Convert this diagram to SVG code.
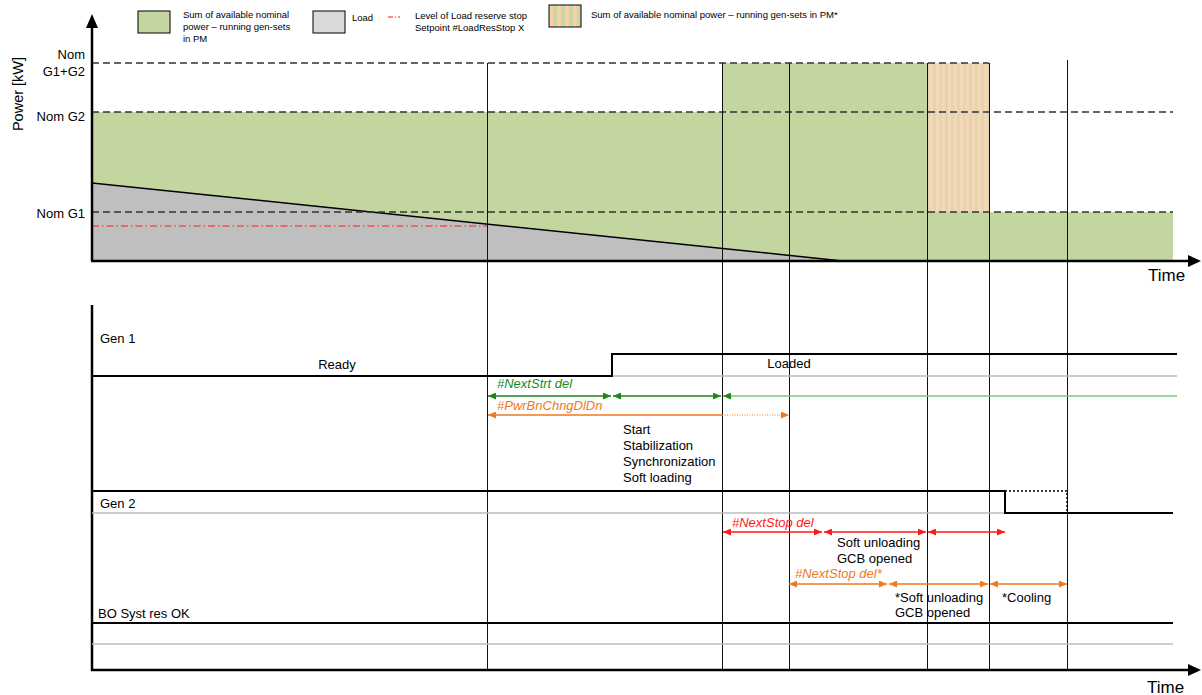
<svg xmlns="http://www.w3.org/2000/svg" width="1202" height="695" viewBox="0 0 1202 695">
<style>
text{font-family:"Liberation Sans",Arial,sans-serif;fill:#000}
.lg{font-size:9.5px}
.lb{font-size:13px}
.tm{font-size:17px}
.ax{stroke:#000;stroke-width:2.5;fill:none}
.dash{stroke:#333;stroke-width:1.3;stroke-dasharray:7,4;fill:none}
.vl{stroke:#111;stroke-width:1;fill:none}
.sig{stroke:#000;stroke-width:2;fill:none}
.gr{stroke:#bdbdbd;stroke-width:1.5;fill:none}
.green{stroke:#1a8a1a;stroke-width:1.5;fill:none}
.orange{stroke:#ee7a20;stroke-width:1.5;fill:none}
.red{stroke:#ff1a1a;stroke-width:1.5;fill:none}
.tg{fill:#1a8a1a;font-style:italic;font-size:13px}
.to{fill:#ee7a20;font-style:italic;font-size:13px}
.tr{fill:#ff1a1a;font-style:italic;font-size:13px}
</style>
<defs>
<pattern id="hatch" width="6" height="10" patternUnits="userSpaceOnUse">
<rect width="6" height="10" fill="#f6d6b9"/>
<rect x="3" width="3" height="10" fill="#e2d6ad"/>
</pattern>
<pattern id="hatchL" x="549" width="8" height="10" patternUnits="userSpaceOnUse">
<rect width="8" height="10" fill="#f7cfaa"/>
<rect x="4" width="4" height="10" fill="#c9d8a2"/>
</pattern>
<marker id="ag" viewBox="0 0 10 10" refX="10" refY="5" markerWidth="8" markerHeight="7" orient="auto-start-reverse" markerUnits="userSpaceOnUse" preserveAspectRatio="none"><path d="M0,0L10,5L0,10z" fill="#1a8a1a"/></marker>
<marker id="ao" viewBox="0 0 10 10" refX="10" refY="5" markerWidth="8" markerHeight="7" orient="auto-start-reverse" markerUnits="userSpaceOnUse" preserveAspectRatio="none"><path d="M0,0L10,5L0,10z" fill="#ee7a20"/></marker>
<marker id="ar" viewBox="0 0 10 10" refX="10" refY="5" markerWidth="8" markerHeight="7" orient="auto-start-reverse" markerUnits="userSpaceOnUse" preserveAspectRatio="none"><path d="M0,0L10,5L0,10z" fill="#ff1a1a"/></marker>
</defs>

<g id="legend">
<rect x="138" y="11" width="32" height="22" fill="#c4d6a0" stroke="#000" stroke-width="1"/>
<text class="lg" x="183" y="18">Sum of available nominal</text>
<text class="lg" x="183" y="30">power – running gen-sets</text>
<text class="lg" x="183" y="42">in PM</text>
<rect x="313" y="11" width="32" height="22" fill="#d9d9d9" stroke="#000" stroke-width="1"/>
<text class="lg" x="352" y="21">Load</text>
<line x1="388" y1="17" x2="400" y2="17" stroke="#ff1a1a" stroke-width="1" stroke-dasharray="5,2,1,2"/>
<text class="lg" x="415" y="19">Level of Load reserve stop</text>
<text class="lg" x="415" y="31">Setpoint #LoadResStop X</text>
<rect x="549" y="5" width="32" height="22" fill="url(#hatchL)" stroke="#000" stroke-width="1"/>
<text class="lg" x="591" y="18">Sum of available nominal power – running gen-sets in PM*</text>
</g>

<g id="power-chart">
<rect x="92" y="112" width="630" height="149" fill="#c4d6a0"/>
<rect x="722" y="63" width="205" height="198" fill="#c4d6a0"/>
<rect x="927" y="63" width="62" height="149" fill="url(#hatch)"/>
<rect x="927" y="212" width="246" height="49" fill="#c4d6a0"/>
<polygon points="92,183 843,261 92,261" fill="#bfbfbf"/>
<line x1="92" y1="183" x2="843" y2="261" stroke="#000" stroke-width="1.5"/>
<line class="dash" x1="92" y1="63" x2="989" y2="63"/>
<line class="dash" x1="92" y1="112" x2="1173" y2="112"/>
<line class="dash" x1="92" y1="212" x2="1173" y2="212"/>
<line x1="92" y1="226" x2="487" y2="226" stroke="#ff2020" stroke-width="1" stroke-dasharray="7,3,1.5,3"/>
<text class="lb" x="85" y="59" text-anchor="end">Nom</text>
<text class="lb" x="85" y="76" text-anchor="end">G1+G2</text>
<text class="lb" x="85" y="121" text-anchor="end">Nom G2</text>
<text class="lb" x="85" y="218" text-anchor="end">Nom G1</text>
<text x="0" y="0" font-size="14.5" text-anchor="middle" transform="translate(23,94) rotate(-90)">Power [kW]</text>
</g>

<g id="time-markers">
<line class="vl" x1="487.5" y1="63" x2="487.5" y2="670"/>
<line class="vl" x1="722.5" y1="63" x2="722.5" y2="670"/>
<line class="vl" x1="789.5" y1="63" x2="789.5" y2="670"/>
<line class="vl" x1="927.5" y1="63" x2="927.5" y2="670"/>
<line class="vl" x1="989.5" y1="63" x2="989.5" y2="670"/>
<line class="vl" x1="1067.5" y1="60" x2="1067.5" y2="670"/>
</g>

<g id="axes">
<line class="ax" x1="92" y1="261" x2="92" y2="22"/>
<path d="M92,14 L86,28 L98,28z" fill="#000"/>
<line class="ax" x1="91" y1="261" x2="1192" y2="261"/>
<path d="M1201,261 L1188,255 L1188,267z" fill="#000"/>
<text class="tm" x="1148" y="281">Time</text>
<line class="ax" x1="92" y1="305" x2="92" y2="671"/>
<line class="ax" x1="91" y1="670" x2="1192" y2="670"/>
<path d="M1201,670 L1188,664 L1188,676z" fill="#000"/>
<text class="tm" x="1147" y="693">Time</text>
</g>

<g id="gen1">
<text class="lb" x="100" y="343">Gen 1</text>
<line class="gr" x1="612" y1="376" x2="1177" y2="376"/>
<polyline class="sig" points="92,376 612,376 612,354 1177,354"/>
<text class="lb" x="337" y="369" text-anchor="middle">Ready</text>
<text class="lb" x="789" y="368" text-anchor="middle">Loaded</text>
<text class="tg" x="497" y="388">#NextStrt del</text>
<text class="to" x="497" y="410">#PwrBnChngDlDn</text>
<text class="lb" x="623" y="434">Start</text>
<text class="lb" x="623" y="450">Stabilization</text>
<text class="lb" x="623" y="466">Synchronization</text>
<text class="lb" x="623" y="482">Soft loading</text>
</g>

<g id="gen2">
<text class="lb" x="100" y="508">Gen 2</text>
<line class="gr" x1="92" y1="513" x2="1005" y2="513"/>
<polyline class="sig" points="92,491 1005,491 1005,513 1173,513"/>
<polyline points="1005,491 1067,491 1067,513" fill="none" stroke="#000" stroke-width="1.5" stroke-dasharray="2,2"/>
<text class="tr" x="732" y="527">#NextStop del</text>
<text class="lb" x="837" y="547">Soft unloading</text>
<text class="lb" x="837" y="563">GCB opened</text>
<text class="to" x="795" y="578">#NextStop del*</text>
<text class="lb" x="895" y="602">*Soft unloading</text>
<text class="lb" x="895" y="617">GCB opened</text>
<text class="lb" x="1002" y="602">*Cooling</text>
</g>

<g id="bo-syst-res">
<text class="lb" x="98" y="618">BO Syst res OK</text>
<line class="sig" x1="92" y1="623" x2="1173" y2="623"/>
<line class="gr" x1="92" y1="644" x2="1173" y2="644"/>
</g>

<g id="connectors">
<line class="green" x1="488" y1="396" x2="611" y2="396" marker-start="url(#ag)" marker-end="url(#ag)"/>
<line class="green" x1="613" y1="396" x2="721" y2="396" marker-start="url(#ag)" marker-end="url(#ag)"/>
<line x1="723" y1="396" x2="1177" y2="396" stroke="#7cc47c" stroke-width="1.5" marker-start="url(#ag)"/>
<line class="orange" x1="488" y1="415" x2="722" y2="415" marker-start="url(#ao)"/>
<line x1="722" y1="415" x2="789" y2="415" stroke="#ee7a20" stroke-width="1" stroke-dasharray="1,1.5" marker-end="url(#ao)"/>
<line class="red" x1="723" y1="532" x2="822" y2="532" marker-start="url(#ar)" marker-end="url(#ar)"/>
<line class="red" x1="824" y1="532" x2="926" y2="532" marker-start="url(#ar)" marker-end="url(#ar)"/>
<line class="red" x1="928" y1="532" x2="1005" y2="532" marker-start="url(#ar)" marker-end="url(#ar)"/>
<line class="orange" x1="789" y1="584" x2="887" y2="584" marker-start="url(#ao)" marker-end="url(#ao)"/>
<line class="orange" x1="889" y1="584" x2="988" y2="584" marker-start="url(#ao)" marker-end="url(#ao)"/>
<line class="orange" x1="990" y1="584" x2="1067" y2="584" marker-start="url(#ao)" marker-end="url(#ao)"/>
</g>
</svg>
